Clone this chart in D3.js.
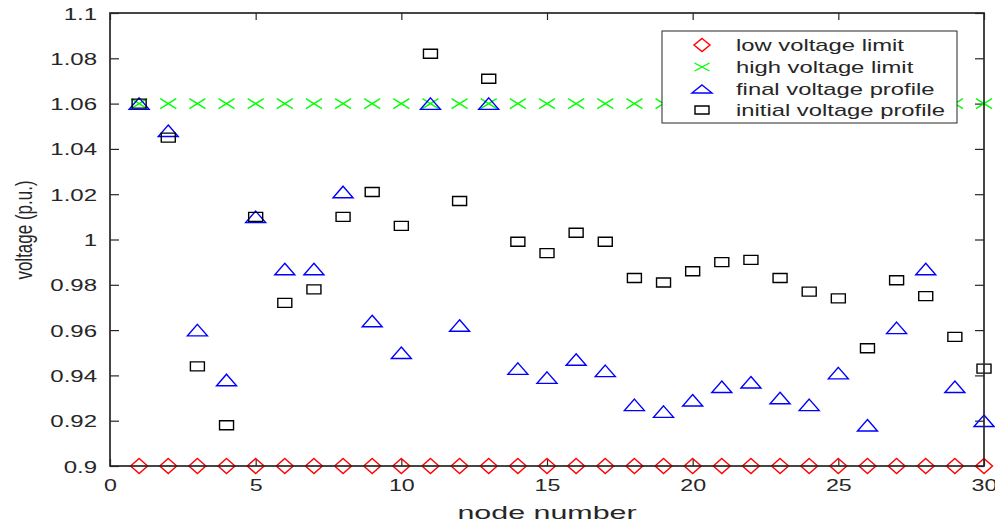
<!DOCTYPE html>
<html>
<head>
<meta charset="utf-8">
<script src="https://cdn.jsdelivr.net/npm/d3@7"></script>
<style>
  html, body { margin: 0; padding: 0; background: #fff; }
  svg { display: block; }
  text { font-family: "Liberation Sans", Arial, Helvetica, sans-serif; fill: #262626; }
</style>
</head>
<body>
<svg id="chart" width="995" height="524"></svg>
<script>
// ---------- data ----------
const nodes = [1,2,3,4,5,6,7,8,9,10,11,12,13,14,15,16,17,18,19,20,21,22,23,24,25,26,27,28,29,30];
const lowLimit = [0.9,0.9,0.9,0.9,0.9,0.9,0.9,0.9,0.9,0.9,0.9,0.9,0.9,0.9,0.9,0.9,0.9,0.9,0.9,0.9,0.9,0.9,0.9,0.9,0.9,0.9,0.9,0.9,0.9,0.9];
const highLimit = [1.06,1.06,1.06,1.06,1.06,1.06,1.06,1.06,1.06,1.06,1.06,1.06,1.06,1.06,1.06,1.06,1.06,1.06,1.06,1.06,1.06,1.06,1.06,1.06,1.06,1.06,1.06,1.06,1.06,1.06];
const finalProfile = [1.060,1.048,0.960,0.938,1.010,0.987,0.987,1.021,0.964,0.950,1.060,0.962,1.060,0.943,0.939,0.947,0.942,0.927,0.924,0.929,0.935,0.937,0.930,0.927,0.941,0.918,0.961,0.987,0.935,0.920];
const initialProfile = [1.060,1.045,0.944,0.918,1.010,0.972,0.978,1.010,1.021,1.006,1.082,1.017,1.071,0.999,0.994,1.003,0.999,0.983,0.981,0.986,0.990,0.991,0.983,0.977,0.974,0.952,0.982,0.975,0.957,0.943];
const seriesNames = ["low voltage limit","high voltage limit","final voltage profile","initial voltage profile"];
const xTicks = [0,5,10,15,20,25,30];
const yTicks = [0.9,0.92,0.94,0.96,0.98,1,1.02,1.04,1.06,1.08,1.1];
const yTickLabels = ["0.9","0.92","0.94","0.96","0.98","1","1.02","1.04","1.06","1.08","1.1"];
const xLabel = "node number";
const yLabel = "voltage (p.u.)";

// ---------- layout ----------
const L = 110, R = 984, T = 13, B = 466;
const axisColor = "#262626";
const svg = d3.select("#chart");
const x = d3.scaleLinear().domain([0, 30]).range([L, R]);
const y = d3.scaleLinear().domain([0.9, 1.1]).range([B, T]);

function stretch(sel, sx) {
  sel.each(function () {
    const w = this.getComputedTextLength();
    this.setAttribute("textLength", w * sx);
    this.setAttribute("lengthAdjust", "spacingAndGlyphs");
  });
}

// marker shapes
const shapes = {
  diamond: (w, h) => `M0,${-h/2}L${w/2},0L0,${h/2}L${-w/2},0Z`,
  cross: (w, h) => `M${-w/2},${-h/2}L${w/2},${h/2}M${-w/2},${h/2}L${w/2},${-h/2}`,
  triangle: (w, h) => `M0,${-h/2}L${w/2},${h/2}L${-w/2},${h/2}Z`,
  square: (w, h) => `M${-w/2},${-h/2}H${w/2}V${h/2}H${-w/2}Z`
};
const series = [
  { name: seriesNames[0], values: lowLimit, color: "#ff0000", shape: "diamond", w: 17, h: 15, lw: 16, lh: 13 },
  { name: seriesNames[1], values: highLimit, color: "#00ff00", shape: "cross", w: 16, h: 10, lw: 15, lh: 8 },
  { name: seriesNames[2], values: finalProfile, color: "#0000ff", shape: "triangle", w: 20, h: 11.5, lw: 20, lh: 8 },
  { name: seriesNames[3], values: initialProfile, color: "#000000", shape: "square", w: 14, h: 9, lw: 14, lh: 8 }
];

// ---------- axes ----------
const gx = svg.append("g").attr("transform", `translate(0,${B})`)
  .call(d3.axisBottom(x).tickValues(xTicks).tickSizeInner(-7).tickSizeOuter(0).tickPadding(14).tickFormat(d3.format("d")));
const gxTop = svg.append("g").attr("transform", `translate(0,${T})`)
  .call(d3.axisTop(x).tickValues(xTicks).tickSizeInner(-7).tickSizeOuter(0).tickFormat(""));
const gy = svg.append("g").attr("transform", `translate(${L},0)`)
  .call(d3.axisLeft(y).tickValues(yTicks).tickSizeInner(-9).tickSizeOuter(0).tickPadding(13)
    .tickFormat((d, i) => yTickLabels[i]));
const gyRight = svg.append("g").attr("transform", `translate(${R},0)`)
  .call(d3.axisRight(y).tickValues(yTicks).tickSizeInner(-9).tickSizeOuter(0).tickFormat(""));

[gx, gxTop, gy, gyRight].forEach(g => {
  g.select(".domain").remove();
  g.selectAll(".tick line").attr("stroke", axisColor).attr("stroke-width", 1.2);
  g.selectAll("text").attr("fill", axisColor).attr("font-size", 16)
    .attr("font-family", '"Liberation Sans", Arial, sans-serif');
});
gy.selectAll("text").attr("dy", "0.38em");
stretch(gx.selectAll("text"), 1.45);
stretch(gy.selectAll("text"), 1.5);

// ---------- markers ----------
series.forEach(s => {
  svg.append("g").selectAll("path").data(s.values).join("path")
    .attr("transform", (d, i) => `translate(${x(nodes[i])},${y(d)})`)
    .attr("d", shapes[s.shape](s.w, s.h))
    .attr("fill", "none")
    .attr("stroke", s.color)
    .attr("stroke-width", 1.4);
});

// axes box
svg.append("rect").attr("x", L).attr("y", T).attr("width", R - L).attr("height", B - T)
  .attr("fill", "none").attr("stroke", axisColor).attr("stroke-width", 1.7);

// ---------- axis labels ----------
const xl = svg.append("text").attr("x", (L + R) / 2).attr("y", 519)
  .attr("text-anchor", "middle").attr("font-size", 19).text(xLabel);
stretch(xl, 1.6);

svg.append("g").attr("transform", "translate(32,230) scale(1.45,1) rotate(-90)")
  .append("text").attr("text-anchor", "middle").attr("font-size", 17).text(yLabel);

// ---------- legend ----------
const legend = svg.append("g");
legend.append("rect").attr("x", 662).attr("y", 31).attr("width", 295).attr("height", 92)
  .attr("fill", "#fff").attr("stroke", axisColor).attr("stroke-width", 1);
const rowY = [45, 67, 89, 110];
series.forEach((s, i) => {
  legend.append("path")
    .attr("transform", `translate(702,${rowY[i]})`)
    .attr("d", shapes[s.shape](s.lw, s.lh))
    .attr("fill", "none").attr("stroke", s.color).attr("stroke-width", 1.4);
  const t = legend.append("text").attr("x", 736).attr("y", rowY[i] + 6)
    .attr("font-size", 17).text(s.name);
  stretch(t, 1.4);
});
</script>
</body>
</html>
